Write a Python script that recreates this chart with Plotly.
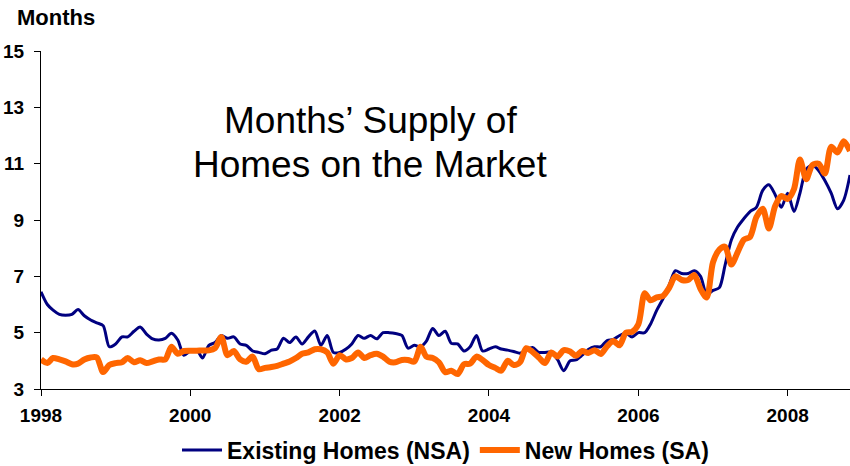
import pandas as pd
import plotly.graph_objects as go

start_month = "1998-01-01"
n_months = 131

existing_homes = [
    6.45, 6.0, 5.8, 5.65, 5.62, 5.65, 5.82, 5.6, 5.45, 5.35, 5.25, 4.5,
    4.6, 4.85, 4.85, 5.05, 5.2, 4.95, 4.78, 4.74, 4.8, 4.98, 4.74, 4.2,
    4.35, 4.4, 4.1, 4.55, 4.65, 4.9, 4.8, 4.85, 4.6, 4.55, 4.35, 4.3,
    4.25, 4.38, 4.42, 4.8, 4.65, 4.85, 4.6, 4.85, 5.06, 4.55, 4.9, 4.3,
    4.3, 4.42, 4.6, 4.9, 4.8, 4.9, 4.78, 5.0, 5.0, 4.97, 4.9, 4.45,
    4.55, 4.5, 4.7, 5.15, 4.9, 5.05, 4.62, 4.6, 4.35, 4.5, 4.9, 4.35,
    4.42, 4.5, 4.42, 4.38, 4.33, 4.27, 4.38, 4.47, 4.3, 4.3, 4.3, 4.05,
    3.65, 4.0, 4.03, 4.2, 4.4, 4.5, 4.5, 4.72, 4.76, 4.9, 4.98, 4.85,
    5.0, 5.0, 5.3, 5.8, 6.2, 6.7, 7.2, 7.1, 7.1, 7.2, 7.0, 6.35,
    6.5, 6.6, 7.4, 8.3, 8.75, 9.05, 9.3, 9.45, 10.05, 10.25, 9.9, 9.45,
    9.95, 9.3, 9.95, 10.8, 10.95, 10.75, 10.4, 9.95, 9.4, 9.7, 10.6,
]

new_homes = [
    4.05, 3.92, 4.1, 4.05, 3.98, 3.88, 3.9, 4.05, 4.12, 4.12, 3.6, 3.85,
    3.92, 3.95, 4.1, 3.95, 4.02, 3.92, 3.98, 4.05, 4.05, 4.5, 4.25, 4.35,
    4.36, 4.36, 4.37, 4.37, 4.45, 4.85, 4.2, 4.35, 4.05, 3.97, 4.15, 3.7,
    3.75, 3.78, 3.82, 3.9, 3.98, 4.1, 4.25, 4.3, 4.41, 4.41, 4.3, 3.9,
    4.2, 4.05, 4.1, 4.3, 4.1, 4.2, 4.25, 4.15, 3.97, 3.95, 4.03, 4.03,
    3.97, 4.5, 4.15, 4.1, 3.95, 3.6, 3.65, 3.53, 3.88, 3.9, 4.15, 4.03,
    3.85, 3.75, 3.65, 4.0, 3.85, 3.95, 4.45, 4.32, 4.12, 3.92, 4.3, 4.15,
    4.38, 4.33, 4.18, 4.35, 4.28, 4.38, 4.24, 4.52, 4.7, 4.55, 5.0, 5.03,
    5.3, 6.4, 6.15, 6.25, 6.3, 6.6, 7.0, 6.87, 6.87, 7.05, 6.55, 6.25,
    7.5, 7.95, 8.05, 7.42, 7.85, 8.3, 8.4, 9.1, 9.4, 8.7, 9.5, 9.85,
    9.75, 10.1, 11.15, 10.45, 10.95, 11.0, 10.65, 11.6, 11.4, 11.8, 11.45,
]

y_ticks = [3, 5, 7, 9, 11, 13, 15]
x_tick_years = ["1998", "2000", "2002", "2004", "2006", "2008"]
series_names = ["Existing Homes (NSA)", "New Homes (SA)"]
title_lines = ["Months’ Supply of", "Homes on the Market"]

dates = pd.date_range(start_month, periods=n_months, freq="MS")

FONT = "Liberation Sans, Arial, sans-serif"

fig = go.Figure()
fig.add_trace(go.Scatter(
    x=dates, y=existing_homes, mode="lines", name=series_names[0],
    line=dict(color="#000080", width=3, shape="spline", smoothing=0.8),
))
fig.add_trace(go.Scatter(
    x=dates, y=new_homes, mode="lines", name=series_names[1],
    line=dict(color="#FF6600", width=6, shape="spline", smoothing=0.8),
))

fig.update_layout(
    width=850, height=466,
    margin=dict(l=41, r=0, t=51, b=77, autoexpand=False),
    paper_bgcolor="white", plot_bgcolor="white",
    font=dict(family=FONT, color="black"),
    showlegend=True,
    legend=dict(
        orientation="h", x=0.5, xanchor="center",
        yref="container", y=1 - 450 / 466, yanchor="middle",
        font=dict(family=FONT, size=23, color="black", weight="bold"),
        itemwidth=40, tracegroupgap=0,
    ),
    xaxis=dict(
        range=[dates[0], dates[-1]],
        tickmode="array",
        tickvals=[pd.Timestamp(y + "-01-01") for y in x_tick_years],
        ticktext=x_tick_years,
        showgrid=False, zeroline=False, automargin=False,
        showline=True, linecolor="black", linewidth=1,
        ticks="outside", ticklen=6, tickcolor="black",
        tickfont=dict(family=FONT, size=19, color="black", weight="bold"),
        ticklabelstandoff=3,
    ),
    yaxis=dict(
        range=[3, 15],
        tickmode="array", tickvals=y_ticks,
        showgrid=False, zeroline=False, automargin=False,
        showline=True, linecolor="black", linewidth=1,
        ticks="outside", ticklen=6, tickcolor="black",
        tickfont=dict(family=FONT, size=19, color="black", weight="bold"),
        ticklabelstandoff=6,
    ),
    annotations=[
        dict(
            text=title_lines[0],
            xref="paper", yref="paper", x=0.407, y=(389 - 121) / 338,
            xanchor="center", yanchor="middle", showarrow=False,
            font=dict(family=FONT, size=37, color="black"),
        ),
        dict(
            text=title_lines[1],
            xref="paper", yref="paper", x=0.407, y=(389 - 164) / 338,
            xanchor="center", yanchor="middle", showarrow=False,
            font=dict(family=FONT, size=37, color="black"),
        ),
        dict(
            text="Months",
            xref="paper", yref="paper", x=-0.032, y=1.098,
            xanchor="left", yanchor="middle", showarrow=False,
            font=dict(family=FONT, size=22, color="black", weight="bold"),
        ),
    ],
)

fig.write_html(
    "out.html",
    config={"displayModeBar": False},
    post_script="document.body.style.margin='0';",
)
